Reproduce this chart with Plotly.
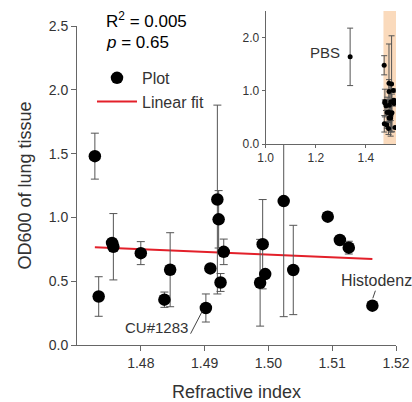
import plotly.graph_objects as go

# Refractive index of each medium and the lung-tissue OD600 (mean and error)
refractive_index = [1.4728, 1.4734, 1.4755, 1.4757, 1.4800, 1.4837, 1.4846, 1.4902,
                    1.4909, 1.4920, 1.4922, 1.4930, 1.4925, 1.4991, 1.4995, 1.4987,
                    1.5024, 1.5039, 1.5093, 1.5112, 1.5126, 1.5163]
od600 = [1.48, 0.38, 0.80, 0.77, 0.72, 0.355, 0.59, 0.29,
         0.60, 1.14, 0.985, 0.73, 0.49, 0.79, 0.556, 0.488,
         1.128, 0.588, 1.006, 0.823, 0.763, 0.308]
od600_err = [0.18, 0.155, 0.03, 0.26, 0.09, 0.06, 0.29, 0.11,
             0.02, 0.74, 0.225, 0.10, 0.07, 0.35, 0.03, 0.34,
             0.906, 0.35, 0.03, 0.02, 0.05, 0.01]

# PBS control (shown only in the inset)
pbs_ri = [1.337]
pbs_od = [1.638]
pbs_err = [0.54]

# Linear fit endpoints
fit_x = [1.4728, 1.5163]
fit_y = [0.766, 0.674]

# Axis ticks
main_xticks = [1.48, 1.49, 1.50, 1.51, 1.52]
main_yticks = [0.0, 0.5, 1.0, 1.5, 2.0, 2.5]
inset_xticks = [1.0, 1.2, 1.4]
inset_yticks = [0.0, 1.0, 2.0]

AXIS = "#666666"
TEXT = "#333333"
FONT = "Liberation Sans, Arial, sans-serif"

fig = go.Figure()

fig.add_trace(go.Scatter(
    x=fit_x, y=fit_y, mode="lines", name="Linear fit",
    line=dict(color="#e3202a", width=2), legendrank=2,
))
fig.add_trace(go.Scatter(
    x=refractive_index, y=od600, mode="markers", name="Plot",
    marker=dict(color="black", size=12.5),
    error_y=dict(type="data", array=od600_err, color="#555555", thickness=1, width=4),
    legendrank=1,
))

# Inset: every medium plus PBS over a wider refractive-index range
fig.add_trace(go.Scatter(
    x=refractive_index + pbs_ri, y=od600 + pbs_od, mode="markers",
    marker=dict(color="black", size=5), showlegend=False,
    error_y=dict(type="data", array=od600_err + pbs_err, color="#555555", thickness=1, width=3),
    xaxis="x2", yaxis="y2",
))

# Shaded band marking the main plot's refractive-index window inside the inset
fig.add_shape(type="rect", xref="x2", yref="y2", x0=1.47, x1=1.52, y0=0, y1=2.5,
              fillcolor="rgb(250,218,188)", line=dict(width=0), layer="below")

axis_common = dict(showline=True, linecolor=AXIS, linewidth=1, ticks="outside",
                   tickcolor=AXIS, showgrid=False, zeroline=False, automargin=False)

fig.update_layout(
    width=412, height=402,
    margin=dict(l=77, r=15.5, t=10, b=57, autoexpand=False),
    paper_bgcolor="white", plot_bgcolor="white",
    font=dict(family=FONT, color=TEXT),
    xaxis=dict(domain=[0, 1], anchor="y", range=[1.47, 1.52],
               tickvals=main_xticks, ticktext=[f"{v:.2f}" for v in main_xticks],
               ticklen=5, tickfont=dict(size=14, color=TEXT),
               title=dict(text="Refractive index", font=dict(size=18, color=TEXT), standoff=15),
               **axis_common),
    yaxis=dict(domain=[0, 319 / 335], anchor="x", range=[0, 2.5],
               tickvals=main_yticks, ticktext=[f"{v:.1f}" for v in main_yticks],
               ticklen=5, tickfont=dict(size=14, color=TEXT),
               title=dict(text="OD600 of lung tissue", font=dict(size=18, color=TEXT), standoff=12),
               **axis_common),
    xaxis2=dict(domain=[0.5915, 1], anchor="y2", range=[1.0, 1.52],
                tickvals=inset_xticks, ticktext=[f"{v:.1f}" for v in inset_xticks],
                ticklen=3, tickfont=dict(size=12, color=TEXT), **axis_common),
    yaxis2=dict(domain=[0.6, 0.997], anchor="x2", range=[0, 2.5],
                tickvals=inset_yticks, ticktext=[f"{v:.1f}" for v in inset_yticks],
                ticklen=3, tickfont=dict(size=12, color=TEXT), **axis_common),
    legend=dict(x=0.047, y=0.848, xanchor="left", yanchor="top",
                font=dict(size=16, color=TEXT), bgcolor="rgba(0,0,0,0)",
                itemwidth=40, tracegroupgap=0),
    showlegend=True,
)

fig.add_annotation(xref="paper", yref="paper", x=0.0845, y=0.970, xanchor="left", yanchor="middle",
                   text="R<sup>2</sup> = 0.005", showarrow=False, font=dict(size=17, color="black"))
fig.add_annotation(xref="paper", yref="paper", x=0.0845, y=0.9015, xanchor="left", yanchor="middle",
                   text="<i>p</i> = 0.65", showarrow=False, font=dict(size=17, color="black"))

# Point labels, each with a short leader line anchored to its point
fig.add_annotation(x=refractive_index[7], y=od600[7], text="CU#1283", showarrow=False,
                   xanchor="right", yanchor="middle", xshift=-16, yshift=-19.4,
                   font=dict(size=15, color=TEXT))
fig.add_shape(type="line", xref="x", yref="y", xsizemode="pixel", ysizemode="pixel",
              xanchor=refractive_index[7], yanchor=od600[7],
              x0=-3.7, y0=-3.4, x1=-15.3, y1=-25.7, line=dict(color="#444444", width=1))

fig.add_annotation(x=refractive_index[21], y=od600[21], text="Histodenz", showarrow=False,
                   xanchor="left", yanchor="middle", xshift=-33, yshift=25.7,
                   font=dict(size=16, color=TEXT))
fig.add_shape(type="line", xref="x", yref="y", xsizemode="pixel", ysizemode="pixel",
              xanchor=refractive_index[21], yanchor=od600[21],
              x0=0.4, y0=7.4, x1=3, y1=15, line=dict(color="#444444", width=1))

fig.add_annotation(x=pbs_ri[0], y=pbs_od[0], xref="x2", yref="y2", text="PBS", showarrow=False,
                   xanchor="right", yanchor="middle", xshift=-8, yshift=4,
                   font=dict(size=15, color=TEXT))

fig.write_html("out.html")
